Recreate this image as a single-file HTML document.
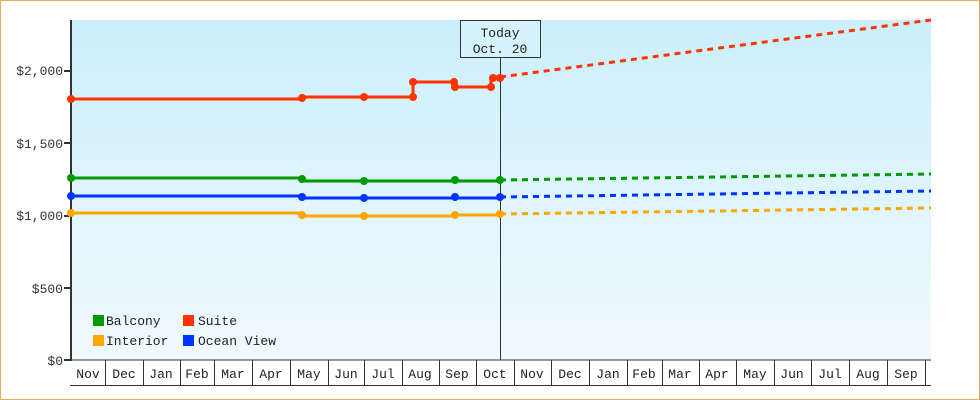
<!DOCTYPE html><html><head><style>body{margin:0}svg{display:block}</style></head><body>
<svg width="980" height="400" xmlns="http://www.w3.org/2000/svg" font-family="Liberation Mono, monospace" font-size="13">
<defs><linearGradient id="g" x1="0" y1="0" x2="0" y2="1"><stop offset="0" stop-color="#cbeffc"/><stop offset="1" stop-color="#f1fafe"/></linearGradient></defs>
<rect x="0.5" y="0.5" width="979" height="399" fill="#fff" stroke="#e8aa66"/>
<rect x="71" y="20" width="860" height="340" fill="url(#g)"/>
<g fill="#333" text-anchor="end">
<text x="63" y="75">$2,000</text><text x="63" y="148">$1,500</text><text x="63" y="220">$1,000</text><text x="63" y="293">$500</text><text x="63" y="365">$0</text></g>
<g stroke="#333" stroke-width="2"><line x1="64" y1="71" x2="71" y2="71"/><line x1="64" y1="143" x2="71" y2="143"/><line x1="64" y1="216" x2="71" y2="216"/><line x1="64" y1="288" x2="71" y2="288"/><line x1="64" y1="360" x2="71" y2="360"/></g>
<line x1="71" y1="20" x2="71" y2="361" stroke="#333" stroke-width="2"/>
<line x1="70" y1="360" x2="931" y2="360" stroke="#333" stroke-width="1"/>
<line x1="70" y1="385.5" x2="931" y2="385.5" stroke="#333"/>
<g stroke="#333"><path d="M105.5 360V385M143.5 360V385M180.5 360V385M214.5 360V385M252.5 360V385M290.5 360V385M328.5 360V385M364.5 360V385M402.5 360V385M439.5 360V385M476.5 360V385M514.5 360V385M551.5 360V385M589.5 360V385M627.5 360V385M662.5 360V385M699.5 360V385M736.5 360V385M774.5 360V385M811.5 360V385M849.5 360V385M887.5 360V385M925.5 360V385"/></g>
<g fill="#222" text-anchor="middle">
<text x="88" y="378">Nov</text><text x="124" y="378">Dec</text><text x="161" y="378">Jan</text><text x="197" y="378">Feb</text><text x="233" y="378">Mar</text><text x="271" y="378">Apr</text><text x="309" y="378">May</text><text x="346" y="378">Jun</text><text x="383" y="378">Jul</text><text x="420" y="378">Aug</text><text x="457" y="378">Sep</text><text x="495" y="378">Oct</text><text x="532" y="378">Nov</text><text x="570" y="378">Dec</text><text x="608" y="378">Jan</text><text x="644" y="378">Feb</text><text x="680" y="378">Mar</text><text x="717" y="378">Apr</text><text x="755" y="378">May</text><text x="792" y="378">Jun</text><text x="830" y="378">Jul</text><text x="868" y="378">Aug</text><text x="906" y="378">Sep</text></g>
<line x1="500.5" y1="57" x2="500.5" y2="360" stroke="#333"/>
<rect x="460.5" y="20.5" width="80" height="37" fill="#d6f2fc" stroke="#333"/>
<text x="500" y="37" text-anchor="middle" fill="#222">Today</text><text x="500" y="53" text-anchor="middle" fill="#222">Oct. 20</text>
<g fill="none" stroke-width="3">
<path d="M71 99H302V97H413V82H454V87H491V77H500" stroke="#ff3300"/>
<path d="M500 77L931 20" stroke="#ff3300" stroke-dasharray="6,5"/>
<path d="M71 178H302V181H500" stroke="#009900"/>
<path d="M500 180L931 174" stroke="#009900" stroke-dasharray="6,5"/>
<path d="M71 196H302V198H500V197" stroke="#0033ff"/>
<path d="M500 197L931 191" stroke="#0033ff" stroke-dasharray="6,5"/>
<path d="M71 213H302V216H455V215H500V214" stroke="#ffa500"/>
<path d="M500 214L931 208" stroke="#ffa500" stroke-dasharray="6,5"/>
</g>
<g fill="#ff3300"><circle cx="71" cy="99" r="4"/><circle cx="302" cy="98" r="4"/><circle cx="364" cy="97" r="4"/><circle cx="413" cy="97" r="4"/><circle cx="413" cy="82" r="4"/><circle cx="454" cy="82" r="4"/><circle cx="455" cy="87" r="4"/><circle cx="491" cy="87" r="4"/><circle cx="493" cy="78" r="4"/><circle cx="500" cy="78" r="4"/></g>
<g fill="#009900"><circle cx="71" cy="178" r="4"/><circle cx="302" cy="179" r="4"/><circle cx="364" cy="181" r="4"/><circle cx="455" cy="180" r="4"/><circle cx="500" cy="180" r="4"/></g>
<g fill="#0033ff"><circle cx="71" cy="196" r="4"/><circle cx="302" cy="197" r="4"/><circle cx="364" cy="198" r="4"/><circle cx="455" cy="197" r="4"/><circle cx="500" cy="197" r="4"/></g>
<g fill="#ffa500"><circle cx="71" cy="213" r="4"/><circle cx="302" cy="215" r="4"/><circle cx="364" cy="216" r="4"/><circle cx="455" cy="215" r="4"/><circle cx="500" cy="214" r="4"/></g>
<rect x="93" y="315" width="11" height="11" fill="#009900"/><text x="106" y="325" fill="#222">Balcony</text>
<rect x="183" y="315" width="11" height="11" fill="#ff3300"/><text x="198" y="325" fill="#222">Suite</text>
<rect x="93" y="335" width="11" height="11" fill="#ffa500"/><text x="106" y="345" fill="#222">Interior</text>
<rect x="183" y="335" width="11" height="11" fill="#0033ff"/><text x="198" y="345" fill="#222">Ocean View</text>
</svg></body></html>
